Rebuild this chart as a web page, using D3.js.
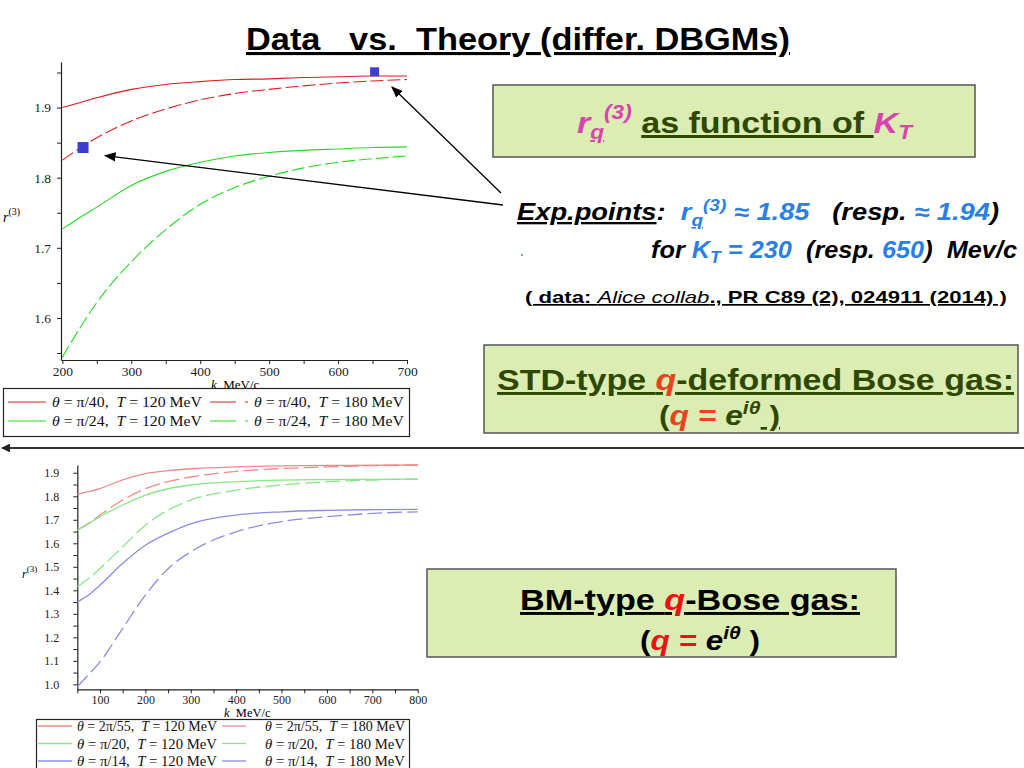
<!DOCTYPE html>
<html>
<head>
<meta charset="utf-8">
<script src="https://cdn.jsdelivr.net/npm/d3@7"></script>
<style>
body { margin: 0; background: #fff; }
svg { display: block; }
text { white-space: pre; }
</style>
</head>
<body>
<div id="slide"></div>
<script>
// ---- top plot: STD-type q-deformed Bose gas ----
var kTop = [200, 225, 250, 300, 350, 400, 450, 500, 550, 600, 650, 700];
var topRed120 = [1.900, 1.907, 1.914, 1.926, 1.933, 1.937, 1.940, 1.941, 1.943, 1.944, 1.945, 1.945];
var topRed180 = [1.825, 1.842, 1.857, 1.881, 1.898, 1.911, 1.920, 1.926, 1.931, 1.935, 1.938, 1.940];
var topGreen120 = [1.727, 1.743, 1.758, 1.789, 1.809, 1.822, 1.831, 1.836, 1.839, 1.841, 1.843, 1.844];
var topGreen180 = [1.544, 1.585, 1.622, 1.680, 1.726, 1.762, 1.786, 1.802, 1.814, 1.822, 1.827, 1.831];
var kExp = [230, 653];
var rExp = [1.843, 1.951];
var topXTicks = [200, 250, 300, 350, 400, 450, 500, 550, 600, 650, 700];
var topYTicks = [1.55, 1.6, 1.65, 1.7, 1.75, 1.8, 1.85, 1.9, 1.95];
var topLegend = [
  ["π/40", "120", "#e31a1a", false], ["π/40", "180", "#e31a1a", true],
  ["π/24", "120", "#22dd22", false], ["π/24", "180", "#22dd22", true]
];

// ---- bottom plot: BM-type q-Bose gas ----
var kBot = [50, 75, 100, 150, 200, 250, 300, 400, 500, 600, 700, 800];
var botRed120 = [1.809, 1.820, 1.833, 1.870, 1.896, 1.909, 1.917, 1.925, 1.929, 1.931, 1.932, 1.933];
var botRed180 = [1.656, 1.686, 1.720, 1.784, 1.832, 1.862, 1.882, 1.906, 1.918, 1.925, 1.930, 1.933];
var botGreen120 = [1.656, 1.683, 1.713, 1.763, 1.805, 1.832, 1.848, 1.862, 1.869, 1.871, 1.872, 1.873];
var botGreen180 = [1.415, 1.450, 1.493, 1.585, 1.677, 1.741, 1.784, 1.826, 1.848, 1.862, 1.869, 1.873];
var botBlue120 = [1.351, 1.380, 1.422, 1.515, 1.592, 1.643, 1.683, 1.720, 1.734, 1.740, 1.743, 1.744];
var botBlue180 = [0.990, 1.042, 1.096, 1.238, 1.380, 1.492, 1.564, 1.649, 1.692, 1.713, 1.727, 1.734];
var botXTicks = [50, 100, 150, 200, 250, 300, 350, 400, 450, 500, 550, 600, 650, 700, 750, 800];
var botYTicks = [1.0, 1.05, 1.1, 1.15, 1.2, 1.25, 1.3, 1.35, 1.4, 1.45, 1.5, 1.55, 1.6, 1.65, 1.7, 1.75, 1.8, 1.85, 1.9];
var botLegend = [
  ["2π/55", "120", "#f08a8a", false], ["2π/55", "180", "#f08a8a", true],
  ["π/20", "120", "#86e886", false], ["π/20", "180", "#86e886", true],
  ["π/14", "120", "#8c8ce8", false], ["π/14", "180", "#8c8ce8", true]
];

var svg = d3.select("#slide").append("svg")
  .attr("width", 1024).attr("height", 768);

var defs = svg.append("defs");
defs.append("marker").attr("id", "ah").attr("viewBox", "0 0 10 10")
  .attr("refX", 9).attr("refY", 5).attr("markerWidth", 9).attr("markerHeight", 9)
  .attr("orient", "auto-start-reverse")
  .append("path").attr("d", "M0,1 L10,5 L0,9 z").attr("fill", "#000");
defs.append("marker").attr("id", "ah2").attr("viewBox", "0 0 10 10")
  .attr("refX", 9).attr("refY", 5).attr("markerWidth", 4).attr("markerHeight", 4)
  .attr("orient", "auto-start-reverse")
  .append("path").attr("d", "M0,0 L10,5 L0,10 z").attr("fill", "#222");

var serif = "'Liberation Serif', 'DejaVu Serif', serif";
var sans = "'Liberation Sans', Arial, sans-serif";

// stretch a text line to the width it has on the slide
function fit(t, w) {
  return t.attr("textLength", w).attr("lengthAdjust", "spacingAndGlyphs");
}

// title
fit(svg.append("text").attr("x", 246).attr("y", 50)
  .attr("font-family", sans).attr("font-weight", "bold").attr("font-size", 31)
  .attr("text-decoration", "underline").attr("fill", "#000")
  .text("Data   vs.  Theory (differ. DBGMs)"), 544);

var line = function (x, y, ks) {
  return d3.line().x(function (d, i) { return x(ks[i]); })
    .y(function (d) { return y(d); }).curve(d3.curveMonotoneX);
};

function drawAxes(g, x, y, xt, yt, fsz, lx, ly) {
  var xa = d3.axisBottom(x).tickValues(xt).tickSize(4).tickSizeOuter(0)
    .tickFormat(function (d) { return d % 100 === 0 ? d : ""; });
  var gx = g.append("g").attr("transform", "translate(0," + y.range()[0] + ")").call(xa);
  var ya = d3.axisLeft(y).tickValues(yt).tickSize(4).tickSizeOuter(0)
    .tickFormat(function (d) { return Math.abs(Math.round(d * 10) - d * 10) < 1e-6 ? d.toFixed(1) : ""; });
  var gy = g.append("g").attr("transform", "translate(" + x.range()[0] + ",0)").call(ya);
  [gx, gy].forEach(function (a) {
    a.selectAll("text").attr("font-family", serif).attr("font-size", fsz).attr("fill", "#222");
    a.selectAll("line").attr("stroke", "#222");
    a.select(".domain").attr("stroke", "#222").attr("stroke-width", 1.2);
  });
  gy.selectAll("text").attr("x", lx);
  gx.selectAll("text").attr("y", ly);
}

// ---------- top plot ----------
var xT = d3.scaleLinear().domain([198, 700]).range([61, 407]);
var yT = d3.scaleLinear().domain([1.54, 1.965]).range([360, 62]);
var gT = svg.append("g");
drawAxes(gT, xT, yT, topXTicks, topYTicks, 13.5, -10, 6);

var topSeries = [[topRed120, "#e31a1a", false], [topRed180, "#e31a1a", true],
                 [topGreen120, "#22dd22", false], [topGreen180, "#22dd22", true]];
topSeries.forEach(function (s) {
  gT.append("path").datum(s[0]).attr("d", line(xT, yT, kTop))
    .attr("fill", "none").attr("stroke", s[1]).attr("stroke-width", 1.1)
    .attr("stroke-dasharray", s[2] ? "13,4" : null);
});
gT.selectAll(".exp").data(kExp).enter().append("rect").attr("class", "exp")
  .attr("x", function (d, i) { return xT(d) - (i ? 4.5 : 5.5); })
  .attr("y", function (d, i) { return yT(rExp[i]) - (i ? 4.5 : 5.5); })
  .attr("width", function (d, i) { return i ? 9 : 11; })
  .attr("height", function (d, i) { return i ? 9 : 11; })
  .attr("fill", "#3a3fd0");

gT.append("text").attr("x", 3).attr("y", 222).attr("font-family", serif)
  .attr("font-size", 14).attr("font-style", "italic").text("r")
  .append("tspan").attr("dy", -7).attr("font-style", "normal").attr("font-size", 10).text("(3)");
gT.append("text").attr("x", 211).attr("y", 389).attr("font-family", serif)
  .attr("font-size", 13)
  .call(function (t) {
    t.append("tspan").attr("font-style", "italic").text("k");
    t.append("tspan").text("  MeV/c");
  });

function legendText(t, th, T, sz, w) {
  t.attr("font-family", serif).attr("font-size", sz).attr("fill", "#111");
  t.append("tspan").attr("font-style", "italic").text("θ");
  t.append("tspan").text(" = " + th + ",  ");
  t.append("tspan").attr("font-style", "italic").text("T");
  t.append("tspan").text(" = " + T + " MeV");
  fit(t, w);
}

var lgT = svg.append("g");
lgT.append("rect").attr("x", 3.5).attr("y", 388.5).attr("width", 406).attr("height", 48)
  .attr("fill", "#fff").attr("stroke", "#222").attr("stroke-width", 1.2);
topLegend.forEach(function (d, i) {
  var cx = i % 2 ? 210 : 8, cy = 407 + Math.floor(i / 2) * 19;
  lgT.append("line").attr("x1", cx).attr("x2", cx + 38).attr("y1", cy - 5).attr("y2", cy - 5)
    .attr("stroke", d[2]).attr("stroke-width", 1.2).attr("stroke-dasharray", d[3] ? "26,9,4,100" : null);
  legendText(lgT.append("text").attr("x", cx + 44).attr("y", cy), d[0], d[1], 15, 150);
});

// ---------- bottom plot ----------
var xB = d3.scaleLinear().domain([50, 800]).range([77.3, 417.7]);
var yB = d3.scaleLinear().domain([0.979, 1.933]).range([689.3, 465]);
var gB = svg.append("g");
drawAxes(gB, xB, yB, botXTicks, botYTicks, 12, -18, 6);

var botSeries = [[botRed120, "#f08a8a", false], [botRed180, "#f08a8a", true],
                 [botGreen120, "#86e886", false], [botGreen180, "#86e886", true],
                 [botBlue120, "#8c8ce8", false], [botBlue180, "#8c8ce8", true]];
botSeries.forEach(function (s) {
  gB.append("path").datum(s[0]).attr("d", line(xB, yB, kBot))
    .attr("fill", "none").attr("stroke", s[1]).attr("stroke-width", 1.3)
    .attr("stroke-dasharray", s[2] ? "15,5" : null);
});
gB.append("text").attr("x", 22).attr("y", 578).attr("font-family", serif)
  .attr("font-size", 12).attr("font-style", "italic").text("r")
  .append("tspan").attr("dy", -6).attr("font-style", "normal").attr("font-size", 9).text("(3)");
gB.append("text").attr("x", 224).attr("y", 717).attr("font-family", serif)
  .attr("font-size", 12.5)
  .call(function (t) {
    t.append("tspan").attr("font-style", "italic").text("k");
    t.append("tspan").text("  MeV/c");
  });

var lgB = svg.append("g");
lgB.append("rect").attr("x", 36.5).attr("y", 719.5).attr("width", 373).attr("height", 60)
  .attr("fill", "#fff").attr("stroke", "#222").attr("stroke-width", 1.2);
botLegend.forEach(function (d, i) {
  var cx = i % 2 ? 222 : 38, cy = 731 + Math.floor(i / 2) * 17.5;
  lgB.append("line").attr("x1", cx).attr("x2", cx + 34).attr("y1", cy - 5).attr("y2", cy - 5)
    .attr("stroke", d[2]).attr("stroke-width", 1.3).attr("stroke-dasharray", d[3] ? "24,11,4,100" : null);
  legendText(lgB.append("text").attr("x", cx + (i % 2 ? 43 : 39)).attr("y", cy), d[0], d[1], 14, 140);
});

// ---------- separator arrow ----------
svg.append("line").attr("x1", 1024).attr("x2", 2).attr("y1", 448).attr("y2", 448)
  .attr("stroke", "#333").attr("stroke-width", 2.2).attr("marker-end", "url(#ah2)");

// ---------- annotation boxes ----------
var boxFill = "#dbedb2", boxStroke = "#555";
var magenta = "#d943ad", dkgreen = "#2f4800", blue = "#2a7fe6";

svg.append("rect").attr("x", 493).attr("y", 85).attr("width", 482).attr("height", 72)
  .attr("fill", boxFill).attr("stroke", boxStroke).attr("stroke-width", 1.5);
var t1 = svg.append("text").attr("x", 577).attr("y", 133).attr("font-family", sans)
  .attr("font-weight", "bold").attr("font-size", 30);
t1.append("tspan").attr("fill", magenta).attr("font-style", "italic").text("r");
t1.append("tspan").attr("fill", magenta).attr("font-style", "italic").attr("font-size", 20)
  .attr("dy", 6).attr("text-decoration", "underline").text("q");
t1.append("tspan").attr("fill", magenta).attr("font-style", "italic").attr("font-size", 20)
  .attr("dy", -20).text("(3)");
t1.append("tspan").attr("dy", 14).text(" ");
t1.append("tspan").attr("fill", dkgreen).attr("text-decoration", "underline").text("as function of ");
t1.append("tspan").attr("fill", magenta).attr("font-style", "italic").text("K");
t1.append("tspan").attr("fill", magenta).attr("font-style", "italic").attr("font-size", 20)
  .attr("dy", 6).text("T");
fit(t1, 335);

// arrows to the experimental points
svg.append("line").attr("x1", 503).attr("y1", 205).attr("x2", xT(kExp[0]) + 22).attr("y2", yT(rExp[0]) + 8)
  .attr("stroke", "#000").attr("stroke-width", 1.3).attr("marker-end", "url(#ah)");
svg.append("line").attr("x1", 501).attr("y1", 193).attr("x2", 392).attr("y2", 87)
  .attr("stroke", "#000").attr("stroke-width", 1.3).attr("marker-end", "url(#ah)");

var e1 = svg.append("text").attr("x", 517).attr("y", 220).attr("font-family", sans)
  .attr("font-weight", "bold").attr("font-style", "italic").attr("font-size", 23);
e1.append("tspan").attr("text-decoration", "underline").text("Exp.points");
e1.append("tspan").text(":  ");
e1.append("tspan").attr("fill", blue).text("r");
e1.append("tspan").attr("fill", blue).attr("font-size", 16).attr("dy", 6)
  .attr("text-decoration", "underline").text("q");
e1.append("tspan").attr("fill", blue).attr("font-size", 16).attr("dy", -15).text("(3)");
e1.append("tspan").attr("fill", blue).attr("dy", 9).text(" ≈ 1.85");
e1.append("tspan").text("   (resp. ");
e1.append("tspan").attr("fill", blue).text("≈ 1.94");
e1.append("tspan").text(")");
fit(e1, 482);

var e2 = svg.append("text").attr("x", 651).attr("y", 258).attr("font-family", sans)
  .attr("font-weight", "bold").attr("font-style", "italic").attr("font-size", 23);
e2.append("tspan").text("for ");
e2.append("tspan").attr("fill", blue).text("K");
e2.append("tspan").attr("fill", blue).attr("font-size", 16).attr("dy", 5).text("T");
e2.append("tspan").attr("fill", blue).attr("dy", -5).text(" = 230");
e2.append("tspan").text("  (resp. ");
e2.append("tspan").attr("fill", blue).text("650");
e2.append("tspan").text(")  Mev/c");
fit(e2, 366);
svg.append("circle").attr("cx", 522).attr("cy", 255).attr("r", 0.9).attr("fill", blue);

var e3 = svg.append("text").attr("x", 525).attr("y", 303).attr("font-family", sans)
  .attr("font-size", 17).attr("text-decoration", "underline");
e3.append("tspan").attr("font-weight", "bold").text("( data: ");
e3.append("tspan").attr("font-style", "italic").text("Alice collab");
e3.append("tspan").attr("font-weight", "bold").text("., PR C89 (2), 024911 (2014) )");
fit(e3, 482);

// STD box
svg.append("rect").attr("x", 484).attr("y", 345).attr("width", 534).attr("height", 88)
  .attr("fill", boxFill).attr("stroke", boxStroke).attr("stroke-width", 1.5);
var orange = "#e8431c";
var s1 = svg.append("text").attr("x", 497).attr("y", 390).attr("font-family", sans)
  .attr("font-weight", "bold").attr("font-size", 29).attr("fill", dkgreen)
  .attr("text-decoration", "underline");
s1.append("tspan").text("STD-type ");
s1.append("tspan").attr("fill", orange).attr("font-style", "italic").text("q");
s1.append("tspan").text("-deformed Bose gas:");
fit(s1, 517);
var s2 = svg.append("text").attr("x", 659).attr("y", 425).attr("font-family", sans)
  .attr("font-weight", "bold").attr("font-size", 27).attr("fill", dkgreen);
s2.append("tspan").text("(");
s2.append("tspan").attr("fill", orange).attr("font-style", "italic").text("q = ");
s2.append("tspan").attr("font-style", "italic").text("e");
s2.append("tspan").attr("font-style", "italic").attr("font-size", 18).attr("dy", -11).text("iθ");
s2.append("tspan").attr("dy", 11).attr("text-decoration", "underline").text(" )");
fit(s2, 121);

// BM box
svg.append("rect").attr("x", 427).attr("y", 569).attr("width", 469).attr("height", 88)
  .attr("fill", boxFill).attr("stroke", boxStroke).attr("stroke-width", 1.5);
var red = "#ee1111";
var b1 = svg.append("text").attr("x", 520).attr("y", 610).attr("font-family", sans)
  .attr("font-weight", "bold").attr("font-size", 29).attr("fill", "#000")
  .attr("text-decoration", "underline");
b1.append("tspan").text("BM-type ");
b1.append("tspan").attr("fill", red).attr("font-style", "italic").text("q");
b1.append("tspan").text("-Bose gas:");
fit(b1, 340);
var b2 = svg.append("text").attr("x", 640).attr("y", 650).attr("font-family", sans)
  .attr("font-weight", "bold").attr("font-size", 27).attr("fill", "#000");
b2.append("tspan").text("(");
b2.append("tspan").attr("fill", red).attr("font-style", "italic").text("q = ");
b2.append("tspan").attr("font-style", "italic").text("e");
b2.append("tspan").attr("font-style", "italic").attr("font-size", 18).attr("dy", -11).text("iθ");
b2.append("tspan").attr("dy", 11).text(" )");
fit(b2, 120);
</script>
</body>
</html>
